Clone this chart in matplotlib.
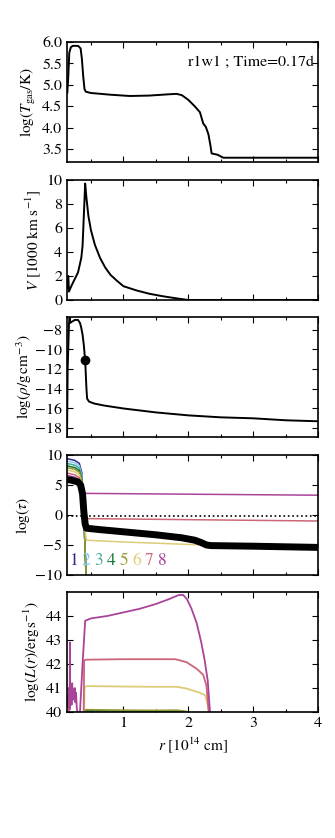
import numpy as np
import matplotlib
matplotlib.use('Agg')
import matplotlib.pyplot as plt
from matplotlib.ticker import MultipleLocator

plt.rcParams['font.family'] = 'STIXGeneral'
plt.rcParams['mathtext.fontset'] = 'stix'

# --- Panel 1: temperatura del gas ---
r_T = [0.135, 0.15, 0.165, 0.19, 0.22, 0.3, 0.34, 0.36, 0.38, 0.40, 0.42, 0.5, 0.8, 1.1,
       1.4, 1.7, 1.82, 1.9, 2.0, 2.1, 2.18, 2.23, 2.27, 2.31, 2.34, 2.36, 2.45, 2.54, 4.0]
logT = [4.82, 5.2, 5.75, 5.88, 5.91, 5.91, 5.85, 5.6, 5.2, 4.9, 4.84, 4.81, 4.77, 4.74,
        4.75, 4.78, 4.79, 4.76, 4.65, 4.5, 4.36, 4.1, 4.02, 3.85, 3.6, 3.4, 3.37, 3.3, 3.3]

# --- Panel 2: velocidad ---
r_V = [0.13, 0.15, 0.16, 0.2, 0.3, 0.35, 0.37, 0.41, 0.43, 0.46, 0.5, 0.56, 0.64, 0.72,
       0.8, 0.9, 1.0, 1.2, 1.4, 1.6, 1.8, 2.0, 4.0]
V = [1.0, 2.0, 0.7, 1.2, 2.3, 3.5, 4.5, 9.7, 8.5, 7.0, 5.8, 4.6, 3.5, 2.7,
     2.1, 1.6, 1.15, 0.8, 0.52, 0.32, 0.15, 0.0, 0.0]

# --- Panel 3: densidad ---
r_rho = [0.13, 0.14, 0.16, 0.17, 0.18, 0.2, 0.25, 0.3, 0.33, 0.35, 0.37, 0.39, 0.41,
         0.43, 0.44, 0.47, 0.55, 0.7, 1.0, 1.5, 2.0, 2.5, 3.0, 3.5, 4.0]
logrho = [-19.0, -12.0, -7.5, -6.6, -7.3, -7.2, -7.0, -7.0, -7.3, -7.8, -8.5, -9.6, -11.1,
          -14.0, -15.0, -15.3, -15.5, -15.7, -16.0, -16.4, -16.7, -16.9, -17.0, -17.2, -17.3]
r_dot, rho_dot = 0.41, -11.1

# --- Panel 4: profundidad óptica ---
r_tau = [0.13, 0.2, 0.3, 0.34, 0.37, 0.39, 0.41, 0.43, 0.6, 1.0, 1.5, 1.9, 2.1, 2.2,
         2.28, 2.35, 3.0, 4.0]
logtau = [5.9, 5.8, 5.5, 5.0, 3.5, 0.5, -1.5, -2.2, -2.4, -2.8, -3.3, -3.8, -4.2, -4.6,
          -5.0, -5.1, -5.2, -5.4]
tau_ref = -0.18

r_tau_hi = [0.13, 0.25, 0.32, 0.36, 0.40, 0.43, 4.0]
tau_bands = [
    [9.4, 9.1, 8.6, 7.0, -3.0, -12.0, -12.0],
    [9.0, 8.7, 8.2, 6.6, -3.0, -12.0, -12.0],
    [8.6, 8.3, 7.8, 6.2, -3.0, -12.0, -12.0],
    [8.2, 7.9, 7.4, 5.9, -3.0, -12.0, -12.0],
    [7.9, 7.6, 7.1, 5.6, -3.0, -12.0, -12.0],
]
r_tau6 = [0.13, 0.25, 0.32, 0.36, 0.40, 0.43, 1.0, 1.5, 2.0, 2.3, 2.4]
tau6 = [7.5, 7.2, 6.7, 5.0, -2.0, -4.2, -4.5, -4.7, -4.9, -5.0, -5.1]
r_tau7 = [0.13, 0.25, 0.32, 0.36, 0.40, 0.43, 4.0]
tau7 = [7.0, 6.7, 6.2, 4.5, 0.5, -0.6, -1.0]
r_tau8 = [0.13, 0.25, 0.32, 0.36, 0.40, 0.43, 4.0]
tau8 = [6.6, 6.3, 5.9, 4.8, 3.7, 3.6, 3.3]

band_colors = ['#332288', '#88CCEE', '#44AA99', '#117733', '#999933', '#DDCC77',
               '#CC6677', '#AA4499']
band_names = ['1', '2', '3', '4', '5', '6', '7', '8']

# --- Panel 5: luminosidad por banda ---
r_L8 = [0.13, 0.14, 0.15, 0.16, 0.17, 0.175, 0.18, 0.19, 0.2, 0.21, 0.22, 0.23, 0.24,
        0.25, 0.26, 0.27, 0.28, 0.3, 0.33, 0.37, 0.41, 0.5, 0.75, 1.0, 1.25, 1.5, 1.7,
        1.85, 1.92, 1.98, 2.05, 2.13, 2.2, 2.25, 2.3, 2.34]
L8 = [40.3, 40.7, 40.2, 41.0, 40.1, 42.9, 40.4, 41.1, 40.3, 41.2, 40.5, 40.9, 40.6,
      41.0, 40.4, 40.8, 40.2, 39.8, 40.0, 42.0, 43.8, 43.9, 44.0, 44.15, 44.3, 44.5, 44.7,
      44.87, 44.88, 44.7, 44.3, 43.7, 42.9, 42.2, 41.3, 39.8]
r_L7 = [0.13, 0.145, 0.16, 0.165, 0.2, 0.385, 0.395, 0.42, 1.0, 1.5, 1.8, 1.97, 2.13,
        2.23, 2.28, 2.32]
L7 = [40.4, 40.2, 40.3, 39.5, np.nan, 39.5, 42.15, 42.18, 42.2, 42.2, 42.2, 42.08, 41.8,
      41.55, 41.1, 39.8]
r_L6 = [0.39, 0.40, 0.45, 1.0, 1.5, 1.82, 1.97, 2.18, 2.26, 2.31, 2.33]
L6 = [39.5, 41.05, 41.08, 41.06, 41.05, 41.05, 40.98, 40.8, 40.7, 40.2, 39.8]
r_L5 = [0.39, 0.41, 1.0, 1.5, 1.82, 1.97, 2.0]
L5 = [39.5, 40.1, 40.08, 40.07, 40.08, 40.03, 39.9]
r_L4 = [0.39, 0.41, 1.0, 1.5, 1.9, 2.0]
L4 = [39.5, 40.05, 40.04, 40.03, 40.04, 39.9]

# --- Figura ---
W, H = 335, 838
fig = plt.figure(figsize=(W / 100, H / 100), dpi=100)
left, width, hgt = 67 / W, 251 / W, 120 / H
tops = [42, 180, 317, 455, 592]
axes = [fig.add_axes([left, 1 - (t + 120) / H, width, hgt]) for t in tops]

for ax in axes:
    ax.set_xlim(0.13, 4.0)
    ax.xaxis.set_major_locator(MultipleLocator(1))
    ax.xaxis.set_minor_locator(MultipleLocator(0.5))
    ax.tick_params(which='both', direction='in', top=True, right=True, labelsize=11.5)
    ax.tick_params(which='major', length=4, width=0.8)
    ax.tick_params(which='minor', length=2.5, width=0.8)
    for s in ax.spines.values():
        s.set_linewidth(1.2)
    if ax is not axes[-1]:
        ax.tick_params(labelbottom=False)

lab_fs = 11

ax = axes[0]
ax.plot(r_T, logT, color='k', lw=1.4)
ax.set_ylim(3.2, 6.0)
ax.yaxis.set_major_locator(MultipleLocator(0.5))
ax.set_ylabel(r'$\log(T_{\rm gas}/{\rm K})$', fontsize=lab_fs)
ax.yaxis.set_label_coords(-0.115, 0.5)
ax.text(0.985, 0.83, 'r1w1 ; Time=0.17d', transform=ax.transAxes, ha='right',
        va='center', fontsize=11.5)

ax = axes[1]
ax.plot(r_V, V, color='k', lw=1.4)
ax.set_ylim(0, 10)
ax.yaxis.set_major_locator(MultipleLocator(2))
ax.set_ylabel(r'$V$ [1000 km s$^{-1}$]', fontsize=lab_fs)
ax.yaxis.set_label_coords(-0.095, 0.5)

ax = axes[2]
ax.plot(r_rho, logrho, color='k', lw=1.4)
ax.plot([r_dot], [rho_dot], 'o', color='k', ms=6)
ax.set_ylim(-18.9, -6.7)
ax.yaxis.set_major_locator(MultipleLocator(2))
ax.set_ylabel(r'$\log(\rho/{\rm g\,cm^{-3}})$', fontsize=lab_fs)
ax.yaxis.set_label_coords(-0.13, 0.5)

ax = axes[3]
for vals, c in zip(tau_bands, band_colors[:5]):
    ax.plot(r_tau_hi, vals, color=c, lw=1.1)
ax.plot(r_tau6, tau6, color=band_colors[5], lw=1.1)
ax.plot(r_tau7, tau7, color=band_colors[6], lw=1.1)
ax.plot(r_tau8, tau8, color=band_colors[7], lw=1.1)
ax.axhline(tau_ref, color='k', ls=':', lw=1.2)
ax.plot(r_tau, logtau, color='k', lw=5, zorder=5, solid_capstyle='butt')
for i, (name, c) in enumerate(zip(band_names, band_colors)):
    ax.text(0.226 + 0.196 * i, -7.7, name, color=c, fontsize=12.5,
            ha='center', va='center')
ax.set_ylim(-10, 10)
ax.yaxis.set_major_locator(MultipleLocator(5))
ax.set_ylabel(r'$\log(\tau)$', fontsize=lab_fs)
ax.yaxis.set_label_coords(-0.14, 0.5)

ax = axes[4]
ax.plot(r_L4, L4, color=band_colors[3], lw=1.1)
ax.plot(r_L5, L5, color=band_colors[4], lw=1.1)
ax.plot(r_L6, L6, color=band_colors[5], lw=1.3)
ax.plot(r_L7, L7, color=band_colors[6], lw=1.3)
ax.plot(r_L8, L8, color=band_colors[7], lw=1.3)
ax.set_ylim(40, 45)
ax.set_yticks([40, 41, 42, 43, 44])
ax.set_ylabel(r'$\log(L(r)/{\rm erg\,s^{-1}})$', fontsize=lab_fs)
ax.yaxis.set_label_coords(-0.1, 0.5)
ax.set_xlabel(r'$r$ [10$^{14}$ cm]', fontsize=lab_fs)

fig.savefig('out.png', dpi=100)
